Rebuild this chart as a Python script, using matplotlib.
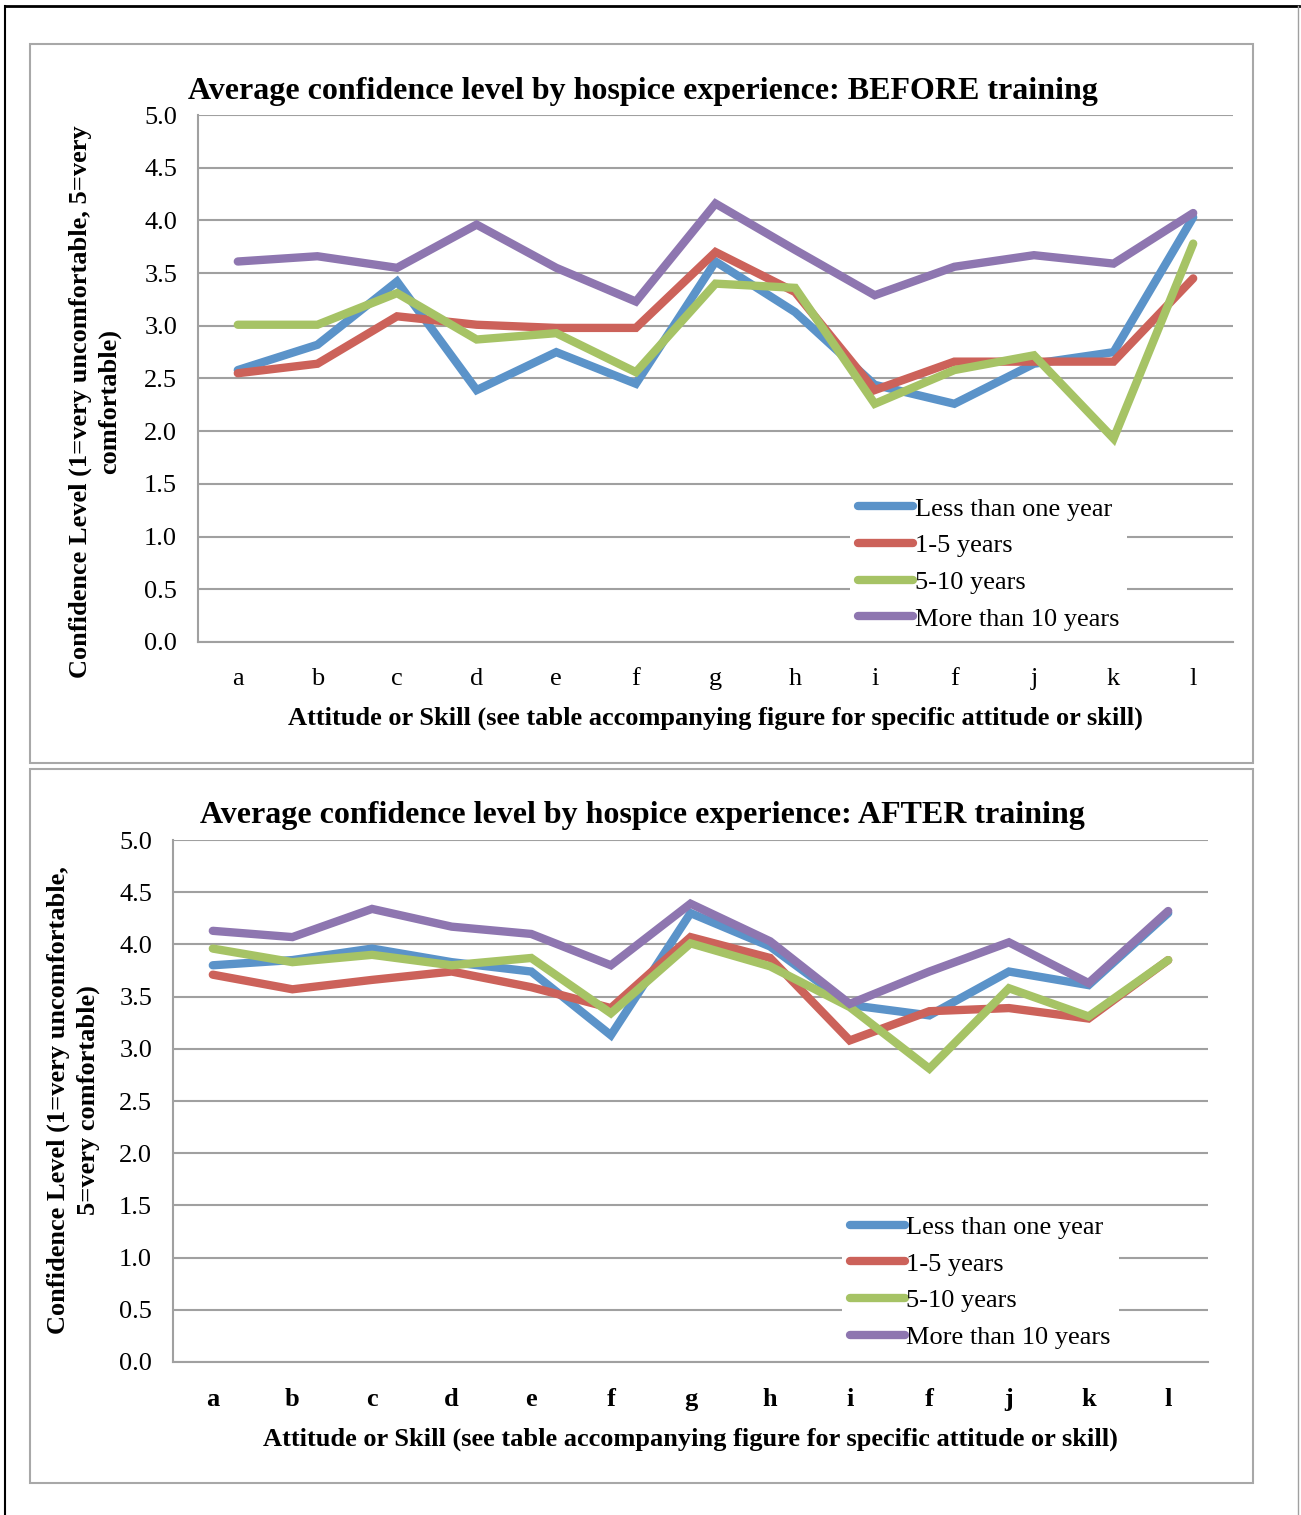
import matplotlib
matplotlib.use('Agg')
import matplotlib.pyplot as plt
from matplotlib.lines import Line2D
from matplotlib.patches import Rectangle

plt.rcParams['font.family'] = ['Liberation Serif', 'DejaVu Serif']

items = ['a', 'b', 'c', 'd', 'e', 'f', 'g', 'h', 'i', 'f', 'j', 'k', 'l']
groups = ['Less than one year', '1-5 years', '5-10 years', 'More than 10 years']
colors = ['#5B93C9', '#CC625A', '#A6C365', '#8E76B0']

# BEFORE training
before_less1 = [2.58, 2.82, 3.42, 2.39, 2.75, 2.45, 3.61, 3.13, 2.44, 2.26, 2.64, 2.75, 4.03]
before_1_5 = [2.55, 2.64, 3.09, 3.01, 2.98, 2.98, 3.70, 3.32, 2.39, 2.66, 2.66, 2.66, 3.45]
before_5_10 = [3.01, 3.01, 3.31, 2.87, 2.93, 2.56, 3.40, 3.36, 2.26, 2.58, 2.72, 1.93, 3.78]
before_10p = [3.61, 3.66, 3.55, 3.96, 3.55, 3.23, 4.16, 3.72, 3.29, 3.56, 3.67, 3.59, 4.07]

# AFTER training
after_less1 = [3.80, 3.85, 3.96, 3.83, 3.74, 3.13, 4.30, 3.98, 3.42, 3.32, 3.74, 3.61, 4.30]
after_1_5 = [3.71, 3.57, 3.66, 3.74, 3.59, 3.39, 4.07, 3.87, 3.08, 3.36, 3.39, 3.29, 3.85]
after_5_10 = [3.96, 3.83, 3.90, 3.80, 3.87, 3.34, 4.01, 3.79, 3.40, 2.81, 3.58, 3.31, 3.85]
after_10p = [4.13, 4.07, 4.34, 4.17, 4.10, 3.80, 4.39, 4.03, 3.43, 3.74, 4.02, 3.63, 4.32]

W, H = 1301, 1515
fig = plt.figure(figsize=(W / 100, H / 100), dpi=100)


def fx(px):
    return px / W


def fy(py):
    return 1 - py / H


# outer frame
fig.add_artist(Line2D([fx(5), fx(5)], [fy(6), 0], color='black', lw=1.5))
fig.add_artist(Line2D([fx(5), fx(1299)], [fy(6), fy(6)], color='black', lw=2))
fig.add_artist(Line2D([fx(1298), fx(1298)], [fy(6), 0], color='#A0A0A0', lw=1))

# panel borders
for top, bot in [(44, 763), (769, 1483)]:
    fig.add_artist(Rectangle((fx(30), fy(bot)), fx(1253) - fx(30), fy(top) - fy(bot),
                             transform=fig.transFigure, fill=False,
                             edgecolor='#A8A8A8', lw=1.5))


def draw_panel(rect, series, title, ylabel, ylabel_pos, title_y, bold_ticks, leg_anchor):
    ax = fig.add_axes(rect)
    for vals, name, c in zip(series, groups, colors):
        ax.plot(range(len(items)), vals, color=c, lw=6, label=name,
                solid_capstyle='round', solid_joinstyle='miter')
    ax.set_xlim(-0.5, len(items) - 0.5)
    ax.set_ylim(0, 5)
    ax.set_yticks([i * 0.5 for i in range(11)])
    ax.set_yticklabels([f'{i * 0.5:.1f}' for i in range(11)], fontsize=19)
    ax.set_xticks(range(len(items)))
    ax.set_xticklabels(items, fontsize=19, fontweight='bold' if bold_ticks else 'normal')
    ax.tick_params(axis='x', length=0, pad=19)
    ax.tick_params(axis='y', length=0, pad=15)
    ax.grid(axis='y', color='#A0A0A0', lw=1.5)
    ax.set_axisbelow(True)
    for s in ['top', 'right']:
        ax.spines[s].set_visible(False)
    ax.spines['left'].set_color('#A0A0A0')
    ax.spines['left'].set_linewidth(1.5)
    ax.spines['bottom'].set_color('#A0A0A0')
    ax.spines['bottom'].set_linewidth(1.5)
    ax.set_xlabel('Attitude or Skill (see table accompanying figure for specific attitude or skill)',
                  fontsize=19, fontweight='bold', labelpad=12)
    fig.text(0.494, fy(title_y), title, ha='center', va='center', fontsize=23, fontweight='bold')
    fig.text(fx(ylabel_pos[0]), fy(ylabel_pos[1]), ylabel, rotation=90, ha='center', va='center',
             multialignment='center', fontsize=19, fontweight='bold', linespacing=1.35)
    ax.legend(loc='upper left', bbox_to_anchor=leg_anchor, fontsize=19, frameon=True,
              facecolor='white', edgecolor='none', framealpha=1, fancybox=False,
              handlelength=2.1, handletextpad=0.05, labelspacing=0.5,
              borderaxespad=0, borderpad=0.3)
    return ax


draw_panel([fx(198), fy(642), fx(1233) - fx(198), fy(115) - fy(642)],
           [before_less1, before_1_5, before_5_10, before_10p],
           'Average confidence level by hospice experience: BEFORE training',
           'Confidence Level (1=very uncomfortable, 5=very\ncomfortable)',
           (95, 402), 91, False, (0.63, 0.29))

draw_panel([fx(173), fy(1362), fx(1208) - fx(173), fy(840) - fy(1362)],
           [after_less1, after_1_5, after_5_10, after_10p],
           'Average confidence level by hospice experience: AFTER training',
           'Confidence Level (1=very uncomfortable,\n5=very comfortable)',
           (73, 1100), 816, True, (0.646, 0.296))

fig.savefig('out.png', dpi=100)
